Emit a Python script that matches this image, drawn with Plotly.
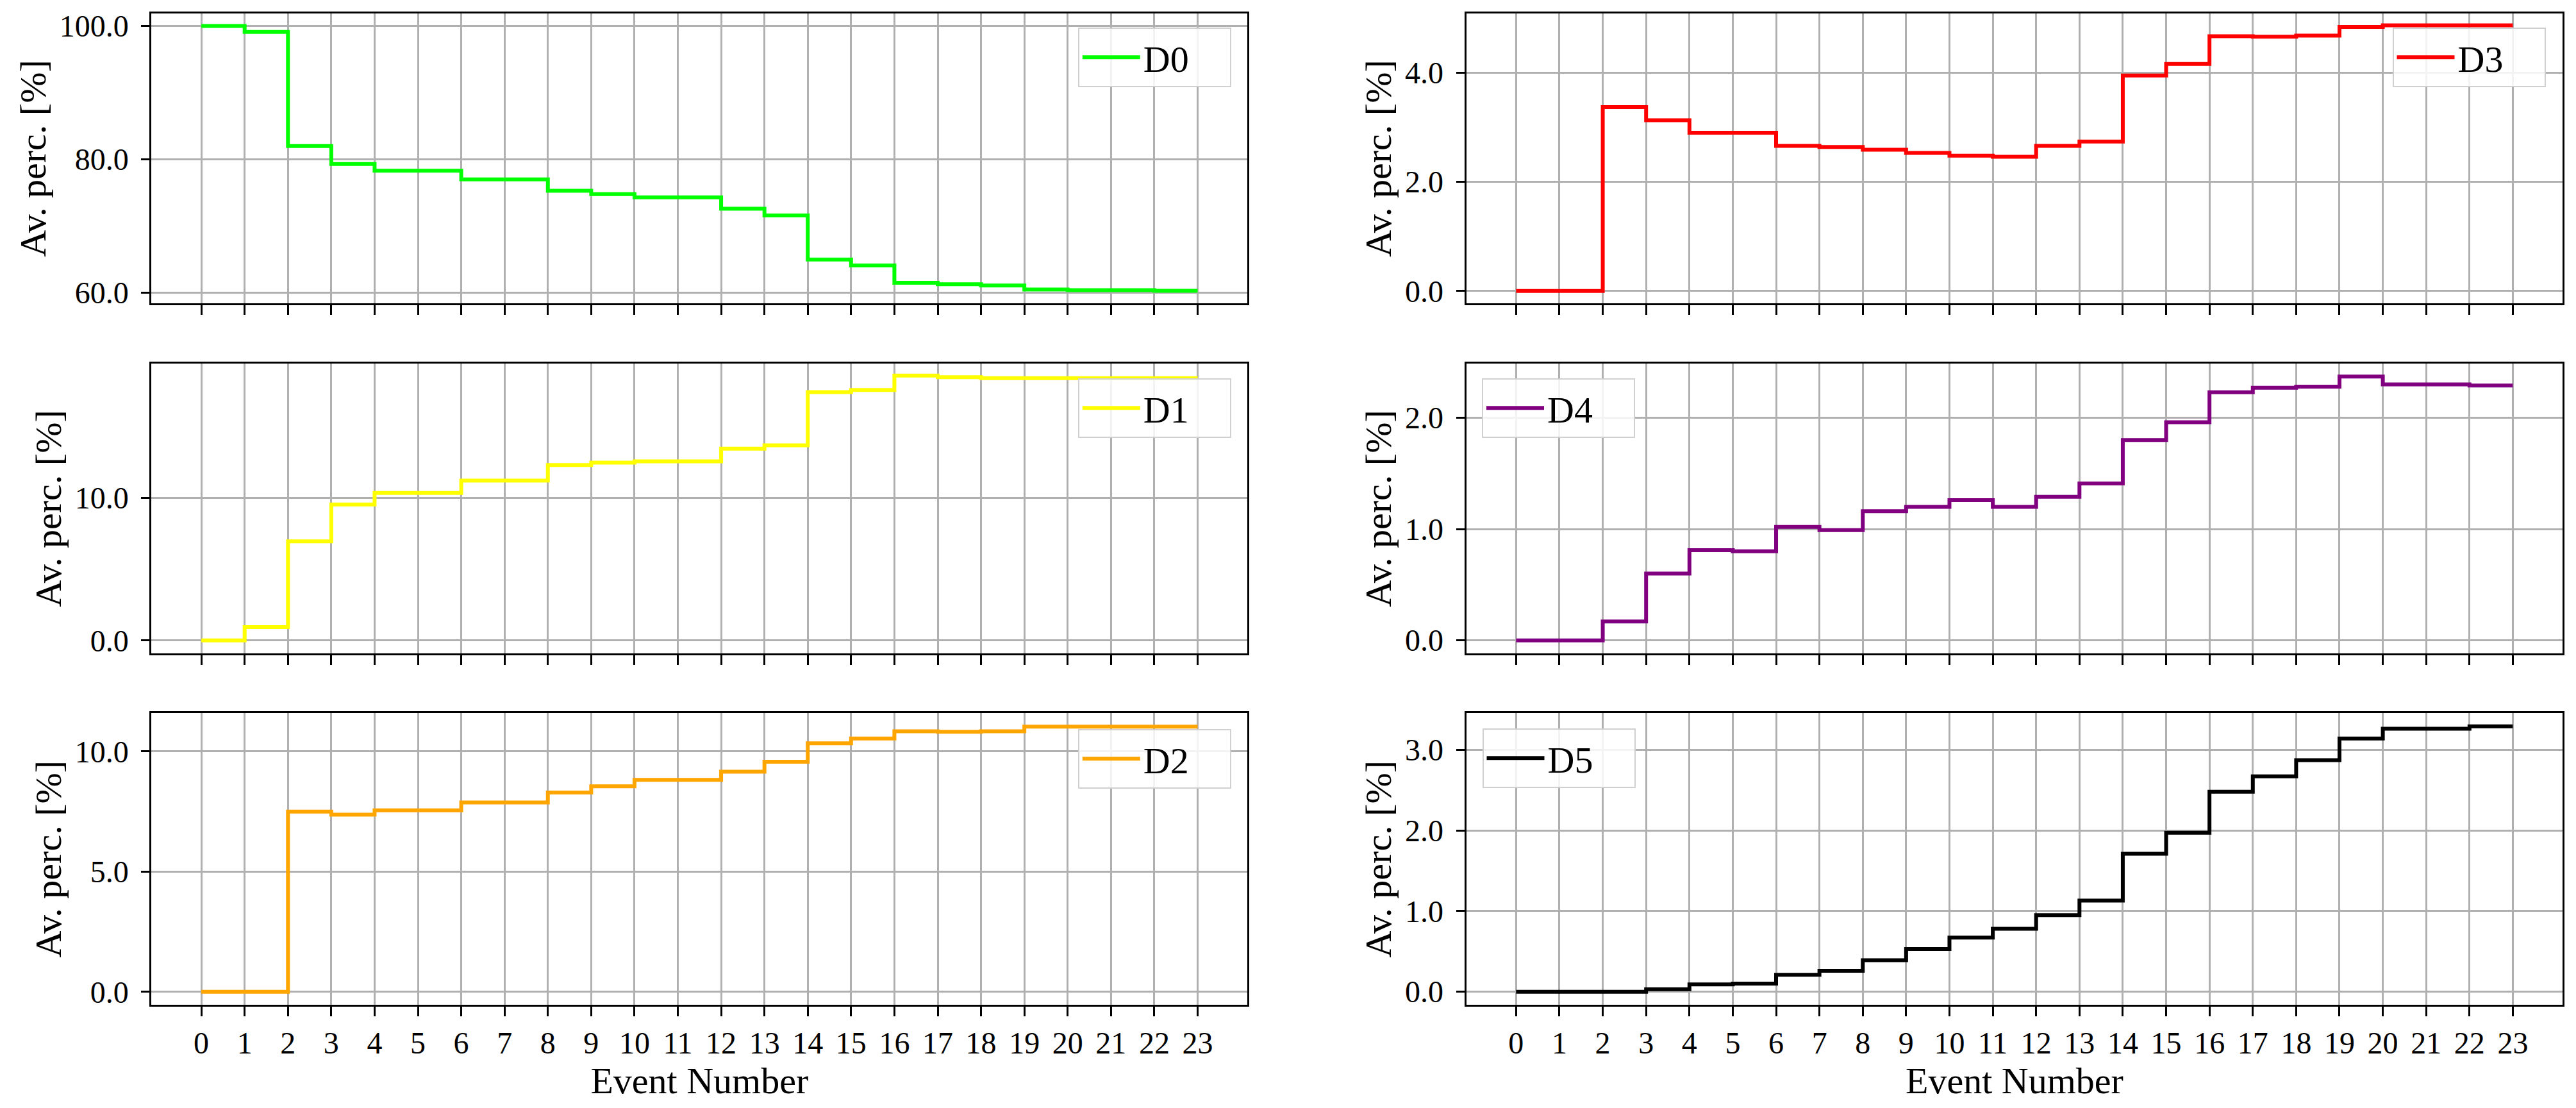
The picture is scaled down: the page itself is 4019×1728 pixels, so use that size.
import plotly.graph_objects as go

events = list(range(24))
event_labels = [str(e) for e in events]

d0 = [100.0, 99.1, 82.0, 79.3, 78.3, 78.3, 77.0, 77.0, 75.3, 74.8, 74.3, 74.3,
      72.6, 71.6, 65.0, 64.1, 61.5, 61.3, 61.1, 60.5, 60.4, 60.4, 60.3, 60.3]
d1 = [0.0, 0.93, 6.94, 9.52, 10.33, 10.33, 11.19, 11.19, 12.28, 12.45, 12.54, 12.54,
      13.43, 13.66, 17.39, 17.54, 18.54, 18.43, 18.36, 18.36, 18.36, 18.36, 18.36, 18.36]
d2 = [0.0, 0.0, 7.50, 7.37, 7.55, 7.55, 7.88, 7.88, 8.29, 8.55, 8.82, 8.82,
      9.16, 9.57, 10.34, 10.54, 10.84, 10.82, 10.84, 11.03, 11.03, 11.03, 11.03, 11.03]
d3 = [0.0, 0.0, 3.37, 3.13, 2.90, 2.90, 2.66, 2.64, 2.59, 2.53, 2.48, 2.46,
      2.66, 2.74, 3.95, 4.16, 4.67, 4.66, 4.68, 4.84, 4.87, 4.87, 4.87, 4.87]
d4 = [0.0, 0.0, 0.17, 0.60, 0.81, 0.80, 1.02, 0.99, 1.16, 1.20, 1.26, 1.20,
      1.29, 1.41, 1.80, 1.96, 2.23, 2.27, 2.28, 2.37, 2.30, 2.30, 2.29, 2.29]
d5 = [0.0, 0.0, 0.0, 0.03, 0.09, 0.10, 0.21, 0.26, 0.39, 0.53, 0.67, 0.78,
      0.95, 1.13, 1.71, 1.97, 2.48, 2.67, 2.87, 3.14, 3.26, 3.26, 3.29, 3.29]

series_names = ["D0", "D3", "D1", "D4", "D2", "D5"]
series_values = [d0, d3, d1, d4, d2, d5]
series_colors = ["#00ff00", "#ff0000", "#ffff00", "#800080", "#ffa500", "#000000"]
y_ranges = [[58.4, 101.9], [-0.23, 5.09], [-0.92, 19.4], [-0.119, 2.489], [-0.55, 11.6], [-0.165, 3.455]]
y_ticks = [[60, 80, 100], [0, 2, 4], [0, 10], [0, 1, 2], [0, 5, 10], [0, 1, 2, 3]]

W, H = 4019, 1728
col_px = [(236.4, 1946.2), (2287.6, 3998.2)]
row_px = [(20.7, 473.3), (566.7, 1019.3), (1112.0, 1567.4)]
# legend anchors (px): (x, y_top, xanchor)
legend_px = [(1920.8, 43, "right"), (3971.5, 43, "right"),
             (1920.8, 590, "right"), (2312.0, 590, "left"),
             (1920.8, 1137, "right"), (2312.5, 1136, "left")]

FONT = "Liberation Serif"
fig = go.Figure()
layout = {}
for i in range(6):
    r, c = divmod(i, 2)
    n = "" if i == 0 else str(i + 1)
    leg = "legend" if i == 0 else f"legend{i + 1}"
    fig.add_trace(go.Scatter(
        x=events, y=series_values[i], name=series_names[i], mode="lines",
        line=dict(color=series_colors[i], width=6, shape="hv"),
        xaxis="x" + n, yaxis="y" + n, legend=leg, showlegend=True))
    x0, x1 = col_px[c]
    t, b = row_px[r]
    layout["xaxis" + n] = dict(
        domain=[x0 / W, x1 / W], anchor="y" + n, range=[-1.15, 24.15],
        tickmode="array", tickvals=events, ticktext=event_labels,
        showticklabels=(r == 2), ticks="outside", ticklen=15, tickwidth=2.5,
        tickcolor="black", showgrid=True, gridcolor="#b0b0b0", gridwidth=2.5,
        zeroline=False, showline=True, linecolor="black", linewidth=3, mirror=True,
        tickfont=dict(family=FONT, size=48, color="black"), ticklabelstandoff=0,
        title=dict(text="Event Number" if r == 2 else "", standoff=6,
                   font=dict(family=FONT, size=58, color="black")),
        automargin=False)
    layout["yaxis" + n] = dict(
        domain=[1 - b / H, 1 - t / H], anchor="x" + n, range=y_ranges[i],
        tickmode="array", tickvals=y_ticks[i],
        ticktext=[f"{v:.1f}" for v in y_ticks[i]],
        ticks="outside", ticklen=13, tickwidth=2.5, tickcolor="black",
        showgrid=True, gridcolor="#b0b0b0", gridwidth=2.5, zeroline=False,
        showline=True, linecolor="black", linewidth=3, mirror=True,
        tickfont=dict(family=FONT, size=48, color="black"), ticklabelstandoff=10,
        title=dict(text="Av. perc. [%]", standoff=3,
                   font=dict(family=FONT, size=58, color="black")),
        automargin=False)
    lx, ly, xa = legend_px[i]
    layout[leg] = dict(
        x=lx / W, y=1 - ly / H, xanchor=xa, yanchor="top", orientation="h",
        bgcolor="rgba(255,255,255,0.85)", bordercolor="#d0d0d0", borderwidth=2,
        font=dict(family=FONT, size=58, color="black"), itemwidth=90,
        entrywidth=130, entrywidthmode="pixels", tracegroupgap=0)

fig.update_layout(
    width=W, height=H, margin=dict(l=0, r=0, t=0, b=0),
    paper_bgcolor="white", plot_bgcolor="white",
    font=dict(family=FONT, color="black"), **layout)

fig.write_html("out.html")
